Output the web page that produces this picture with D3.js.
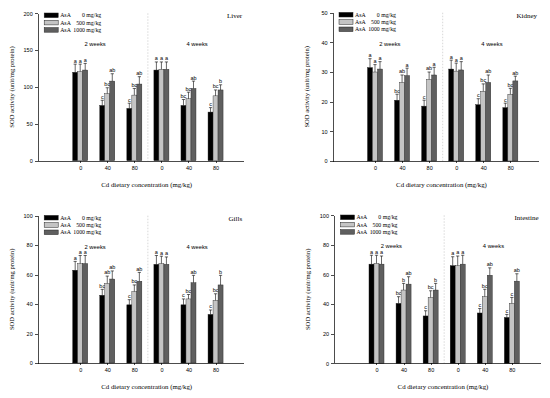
<!DOCTYPE html>
<html lang="en">
<head>
<meta charset="UTF-8">
<title>SOD activity</title>
<script src="https://d3js.org/d3.v7.min.js"></script>
<style>
    html, body { margin: 0; padding: 0; background: #fff; }
    svg { display: block; }
    .axis path, .axis line { stroke: #000; stroke-width: 0.7px; shape-rendering: crispEdges; }
    .axis text { font-family: "Liberation Sans", Arial, sans-serif; font-size: 5.5px; fill: #000; }
    .serif { font-family: "Liberation Serif", "Times New Roman", serif; fill: #000; }
    .sans { font-family: "Liberation Sans", Arial, sans-serif; fill: #000; }
</style>
</head>
<body>
<script>

// shared
var groups = ["0", "40", "80", "0", "40", "80"];
var doses = ["0 mg/kg", "500 mg/kg", "1000 mg/kg"];
var weeks = ["2 weeks", "4 weeks"];
var colors = ["#000000", "#c4c4c4", "#5f5f5f"];

// Liver
var liverTicks = [0, 50, 100, 150, 200];
var liverMean = [[120, 75, 71, 123, 75, 66], [121, 91, 89, 124, 84, 88], [123, 108, 104, 124, 98, 96]];
var liverErr = [[11, 7, 7, 11, 8, 6], [10, 8, 9, 10, 9, 8], [9, 10, 10, 10, 10, 7]];
var liverLetters = [["a", "c", "c", "a", "bc", "c"], ["a", "bc", "bc", "a", "bc", "bc"], ["a", "ab", "ab", "a", "ab", "b"]];

// Kidney
var kidneyTicks = [0, 10, 20, 30, 40, 50];
var kidneyMean = [[31.5, 20.5, 18.5, 31, 19, 18], [30, 26.5, 27.5, 30.3, 23.5, 22.5], [31, 28.8, 29, 30.7, 26.5, 27]];
var kidneyErr = [[3, 2, 2, 3, 2, 1.5], [2.5, 2.5, 2.5, 2.7, 2.5, 2], [2.5, 2.5, 2.6, 2.8, 2.5, 1.6]];
var kidneyLetters = [["a", "bc", "c", "a", "c", "c"], ["a", "ab", "ab", "a", "bc", "bc"], ["a", "a", "a", "a", "ab", "ab"]];

// Gills
var gillsTicks = [0, 20, 40, 60, 80, 100];
var gillsMean = [[63, 46, 39.5, 67, 39.5, 33], [67.5, 54, 48.5, 67.5, 43.5, 42.5], [67.5, 57, 55.5, 67, 54.5, 53]];
var gillsErr = [[6, 4, 3.5, 6, 4, 3], [5.5, 5, 4.5, 5, 3, 4.5], [5.5, 5.5, 6, 5, 5, 6.5]];
var gillsLetters = [["a", "bc", "c", "a", "c", "c"], ["a", "ab", "bc", "a", "bc", "bc"], ["a", "ab", "ab", "a", "ab", "b"]];

// Intestine
var intestineTicks = [0, 20, 40, 60, 80, 100];
var intestineMean = [[67, 40.5, 32, 66, 34, 31], [67.5, 49.5, 44.5, 66, 45, 40.5], [67, 53.5, 49.5, 67, 59.5, 55.5]];
var intestineErr = [[6, 4.5, 3.5, 6, 3, 2], [5.5, 4.5, 4.5, 6.5, 5, 4], [5.5, 5, 4.5, 6, 5, 5]];
var intestineLetters = [["a", "bc", "c", "a", "c", "c"], ["a", "b", "bc", "a", "bc", "c"], ["a", "ab", "b", "a", "ab", "ab"]];

var panels = [
    {name: "Liver", left: 37.7, top: 13.3, bottom: 160.7, ticks: liverTicks, mean: liverMean, err: liverErr, letters: liverLetters},
    {name: "Kidney", left: 332.5, top: 12.7, bottom: 161, ticks: kidneyTicks, mean: kidneyMean, err: kidneyErr, letters: kidneyLetters},
    {name: "Gills", left: 37.7, top: 215.7, bottom: 363, ticks: gillsTicks, mean: gillsMean, err: gillsErr, letters: gillsLetters},
    {name: "Intestine", left: 334, top: 215.3, bottom: 363.3, ticks: intestineTicks, mean: intestineMean, err: intestineErr, letters: intestineLetters}
];

var plotW = 206;

var svg = d3.select("body").append("svg").attr("width", 550).attr("height", 398);

panels.forEach(function(p) {
    var x = d3.scaleLinear().domain([-1.57, 6.04]).range([p.left, p.left + plotW]);
    var y = d3.scaleLinear().domain([0, d3.max(p.ticks)]).range([p.bottom, p.top]);
    var bw = x(0.185) - x(0);
    var g = svg.append("g");

    // week separator
    g.append("line")
        .attr("x1", x(2.5)).attr("x2", x(2.5))
        .attr("y1", y(d3.max(p.ticks))).attr("y2", y(0))
        .attr("stroke", "#c8c8c8").attr("stroke-width", 0.7)
        .attr("stroke-dasharray", "1.5,1.5");

    p.mean.forEach(function(vals, s) {
        vals.forEach(function(v, i) {
            var cx = x(i) + (s - 1) * bw;
            var e = p.err[s][i];
            g.append("rect")
                .attr("x", cx - bw / 2).attr("y", y(v))
                .attr("width", bw).attr("height", y(0) - y(v))
                .attr("fill", colors[s]).attr("stroke", "#222").attr("stroke-width", 0.4);
            g.append("line")
                .attr("x1", cx).attr("x2", cx).attr("y1", y(v)).attr("y2", y(v + e))
                .attr("stroke", "#000").attr("stroke-width", 0.6);
            g.append("line")
                .attr("x1", cx - 1.6).attr("x2", cx + 1.6).attr("y1", y(v + e)).attr("y2", y(v + e))
                .attr("stroke", "#000").attr("stroke-width", 0.6);
            g.append("text").attr("class", "sans")
                .attr("x", cx).attr("y", y(v + e) - 1.6)
                .attr("text-anchor", "middle").attr("font-size", "5.5px").attr("fill", "#000")
                .text(p.letters[s][i]);
        });
    });

    g.append("g").attr("class", "axis")
        .attr("transform", "translate(" + p.left + ",0)")
        .call(d3.axisLeft(y).tickValues(p.ticks).tickSize(3).tickSizeOuter(0).tickPadding(2));

    g.append("g").attr("class", "axis")
        .attr("transform", "translate(0," + p.bottom + ")")
        .call(d3.axisBottom(x).tickValues(d3.range(groups.length)).tickFormat(function(i) { return groups[i]; })
            .tickSize(2).tickSizeOuter(0).tickPadding(3));

    // week labels
    [0.55, 4.32].forEach(function(pos, k) {
        g.append("text").attr("class", "sans")
            .attr("x", x(pos)).attr("y", p.top + 33)
            .attr("text-anchor", "middle").attr("font-size", "5.8px")
            .text(weeks[k]);
    });

    // tissue name
    g.append("text").attr("class", "serif")
        .attr("x", p.left + plotW - 1.5).attr("y", p.top + 5)
        .attr("text-anchor", "end").attr("font-size", "7px")
        .text(p.name);

    // legend
    doses.forEach(function(d, s) {
        var ly = p.top + 2 + s * 7.3;
        g.append("rect")
            .attr("x", p.left + 6.5).attr("y", ly - 2.3)
            .attr("width", 14).attr("height", 4.6)
            .attr("fill", colors[s]).attr("stroke", "#222").attr("stroke-width", 0.5);
        g.append("text").attr("class", "serif")
            .attr("x", p.left + 22.5).attr("y", ly + 2)
            .attr("font-size", "5.8px").text("AsA");
        g.append("text").attr("class", "serif")
            .attr("x", p.left + 63.5).attr("y", ly + 2)
            .attr("text-anchor", "end").attr("font-size", "5.8px").text(d);
    });

    // axis titles
    g.append("text").attr("class", "serif")
        .attr("transform", "translate(" + (p.left - 24) + "," + ((p.top + p.bottom) / 2) + ") rotate(-90)")
        .attr("text-anchor", "middle").attr("font-size", "6.6px")
        .text("SOD activity  (unit/mg protein)");

    g.append("text").attr("class", "serif")
        .attr("x", p.left + 109).attr("y", p.bottom + 26)
        .attr("text-anchor", "middle").attr("font-size", "6.8px")
        .text("Cd dietary concentration (mg/kg)");
});

</script>
</body>
</html>
